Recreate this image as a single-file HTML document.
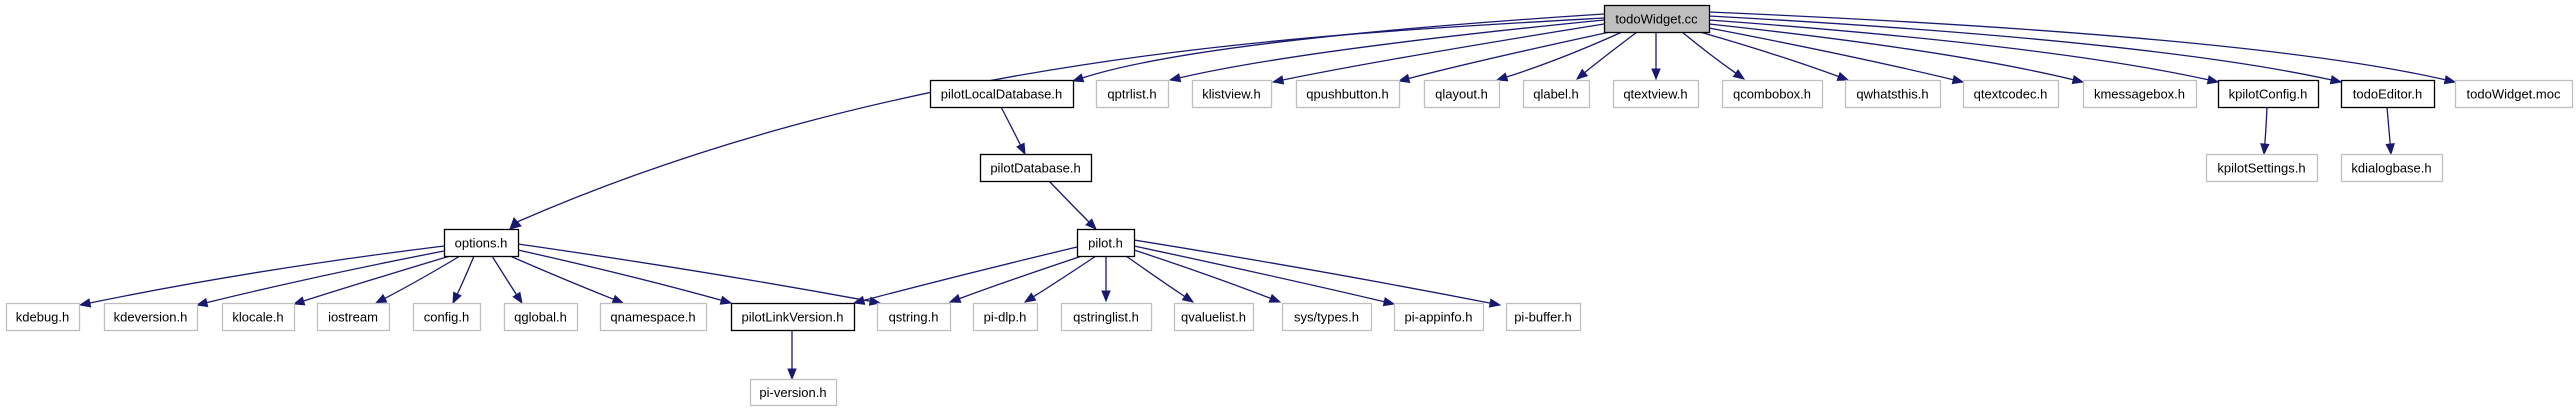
<!DOCTYPE html>
<html><head><meta charset="utf-8"><style>
html,body{margin:0;padding:0;background:#fff;width:2576px;height:411px;overflow:hidden}
svg{display:block}
text{font-family:"Liberation Sans",sans-serif;font-size:13px;fill:#000}
</style></head><body>
<svg id="g" width="2576" height="411" xmlns="http://www.w3.org/2000/svg"></svg>
<script>
var N={
'todoWidget.cc':[1604,1709,5,32,2],
'pilotLocalDatabase.h':[930,1073,80,107,1],'qptrlist.h':[1096,1168,80,107,0],'klistview.h':[1192,1271,80,107,0],
'qpushbutton.h':[1296,1399,80,107,0],'qlayout.h':[1424,1499,80,107,0],'qlabel.h':[1523,1589,80,107,0],
'qtextview.h':[1613,1698,80,107,0],'qcombobox.h':[1722,1822,80,107,0],'qwhatsthis.h':[1845,1940,80,107,0],
'qtextcodec.h':[1963,2058,80,107,0],'kmessagebox.h':[2083,2196,80,107,0],'kpilotConfig.h':[2218,2318,80,107,1],
'todoEditor.h':[2341,2434,80,107,1],'todoWidget.moc':[2455,2572,80,107,0],
'pilotDatabase.h':[980,1091,154,181,1],'kpilotSettings.h':[2206,2317,154,181,0],'kdialogbase.h':[2341,2442,154,181,0],
'options.h':[444,518,229,256,1],'pilot.h':[1077,1134,229,256,1],
'kdebug.h':[6,79,303,330,0],'kdeversion.h':[104,197,303,330,0],'klocale.h':[222,294,303,330,0],'iostream':[317,389,303,330,0],
'config.h':[413,480,303,330,0],'qglobal.h':[504,577,303,330,0],'qnamespace.h':[600,706,303,330,0],
'pilotLinkVersion.h':[731,854,303,330,1],'qstring.h':[877,950,303,330,0],'pi-dlp.h':[973,1037,303,330,0],
'qstringlist.h':[1061,1151,303,330,0],'qvaluelist.h':[1174,1253,303,330,0],'sys/types.h':[1282,1371,303,330,0],
'pi-appinfo.h':[1394,1483,303,330,0],'pi-buffer.h':[1506,1580,303,330,0],'pi-version.h':[750,836,379,405,0]};
// edges: [sx,sy, cx,cy, tx,ty]
var E=[
[1604,14, 1200,40, 1073,81],[1604,20, 1300,50, 1170,80],[1604,24, 1380,60, 1273,82],
[1610,32, 1480,60, 1399,81],[1622,32, 1560,60, 1497,80],[1637,32, 1600,60, 1577,79],
[1656,32, 1656,60, 1656,79],[1682,32, 1710,55, 1744,79],[1700,32, 1780,55, 1848,80],
[1709,28, 1850,55, 1963,82],[1709,24, 1950,50, 2083,82],[1709,20, 2050,45, 2218,82],
[1709,16, 2150,40, 2341,82],[1709,12, 2250,35, 2455,82],
[1001,107,1013,130,1025,154],[1049,181,1072,205,1096,229],
[2267,107,2266,130,2264,154],[2387,107,2389,130,2391,154],[792,330,792,355,792,379],
[444,246, 250,270, 80,305],[444,251, 320,275, 197,305],[450,256, 370,280, 294,304],
[460,256, 420,280, 376,303],[474,256, 464,280, 453,303],[492,256, 507,280, 522,303],
[510,256, 565,280, 623,303],[518,250, 630,275, 731,303],[518,244, 700,270, 880,303],
[1077,247,960,275, 854,303],[1082,256,1010,280, 950,302],[1096,256,1060,280,1025,302],
[1106,256,1106,280,1106,301],[1126,256,1160,280,1193,302],[1134,250,1210,275,1280,302],
[1134,246,1270,275,1394,304],[1134,240,1320,270,1500,305]];
var s='';
E.forEach(function(e){
 var dx=e[4]-e[2],dy=e[5]-e[3],L=Math.sqrt(dx*dx+dy*dy),ux=dx/L,uy=dy/L,al=10,aw=4;
 var bx=e[4]-ux*al,by=e[5]-uy*al;
 s+='<path d="M'+e[0]+','+e[1]+' Q'+e[2]+','+e[3]+' '+bx.toFixed(1)+','+by.toFixed(1)+'" fill="none" stroke="#191970" stroke-width="1.3"/>';
 s+='<polygon points="'+e[4]+','+e[5]+' '+(bx-uy*aw).toFixed(1)+','+(by+ux*aw).toFixed(1)+' '+(bx+uy*aw).toFixed(1)+','+(by-ux*aw).toFixed(1)+'" fill="#191970" stroke="#191970"/>';
});
s+='<path d="M1604,18 C1300,35 900,55 517,222" fill="none" stroke="#191970" stroke-width="1.3"/>';
s+='<polygon points="510,229 514,218 521,226" fill="#191970" stroke="#191970"/>';
for(var k in N){var n=N[k];
 var fill=n[4]==2?'#bfbfbf':'#fff',st=n[4]?'#000':'#bfbfbf';
 s+='<rect x="'+(n[0]+0.5)+'" y="'+(n[2]+0.5)+'" width="'+(n[1]-n[0])+'" height="'+(n[3]-n[2])+'" fill="'+fill+'" stroke="'+st+'" stroke-width="'+(n[4]?1.3:1.3)+'"/>';
 s+='<text x="'+((n[0]+n[1])/2)+'" y="'+((n[2]+n[3])/2+5)+'" text-anchor="middle">'+k+'</text>';
}
document.getElementById('g').innerHTML=s;
</script>
</body></html>
